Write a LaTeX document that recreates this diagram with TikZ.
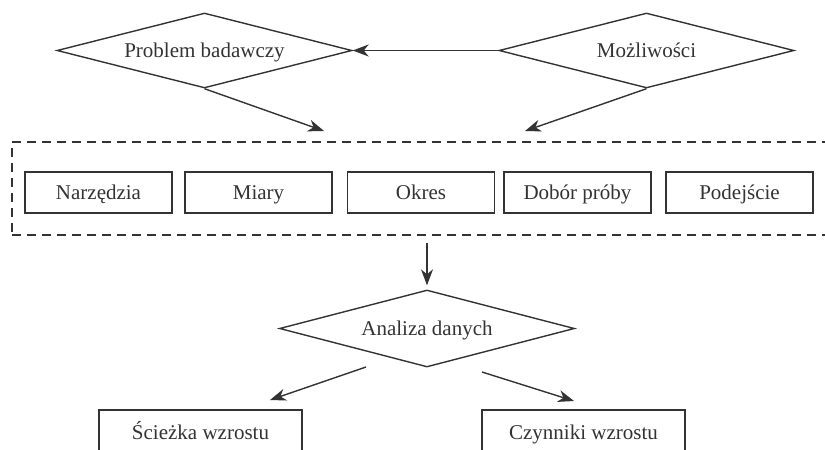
\documentclass[tikz,border=0pt]{standalone}
\usepackage{fontspec}
\setmainfont{Liberation Serif}
\usetikzlibrary{shapes.geometric,arrows.meta}
\definecolor{ink}{HTML}{333333}
\tikzset{
  base/.style={draw=ink, line width=1.4pt, text=ink, font=\fontsize{21}{24}\selectfont, inner sep=0pt},
  dia/.style={base, diamond, aspect=4, minimum width=295pt, minimum height=75pt, text height=16pt, text depth=2pt},
  box/.style={base, rectangle, minimum width=147pt, minimum height=41pt, text height=15pt, text depth=2pt},
  bigbox/.style={base, rectangle, minimum width=203pt, minimum height=46pt, text height=15pt, text depth=2pt},
  grpbox/.style={draw=ink, line width=1.4pt, dash pattern=on 9pt off 6pt, rectangle, minimum width=828pt, minimum height=93pt, inner sep=0pt},
  arr/.style={draw=ink, line width=1.4pt, -{Stealth[length=16pt,width=12pt,inset=5pt]}}
}
\begin{document}
\begin{tikzpicture}[x=1pt,y=-1pt]
\useasboundingbox (0,0) rectangle (825,450);
\node[dia] (pb) at (204.5,50.5) {Problem badawczy};
\node[dia] (mo) at (646.5,50.5) {Możliwości};
\node[grpbox] (grp) at (426,188.5) {};
\node[box] (n1) at (98.5,192.5) {Narzędzia};
\node[box] (n2) at (258.5,192.5) {Miary};
\node[box] (n3) at (421,192.5) {Okres};
\node[box] (n4) at (577.5,192.5) {Dobór próby};
\node[box] (n5) at (739.5,192.5) {Podejście};
\node[dia, minimum height=77pt] (ad) at (427,328.5) {Analiza danych};
\node[bigbox] (s1) at (200.5,433) {Ścieżka wzrostu};
\node[bigbox] (s2) at (583.5,433) {Czynniki wzrostu};
\coordinate (t1) at (324,131);
\coordinate (t2) at (525,131);
\coordinate (a1) at (366,367);
\coordinate (e1) at (270,400);
\coordinate (a2) at (482,372);
\coordinate (e2) at (574,401);
\draw[arr] (mo.west) -- (pb.east);
\draw[arr] (pb.south) -- (t1);
\draw[arr] (mo.south) -- (t2);
\draw[arr, shorten <=7pt, shorten >=4pt] (ad.north |- grp.south) -- (ad.north);
\draw[arr] (a1) -- (e1);
\draw[arr] (a2) -- (e2);
\end{tikzpicture}
\end{document}
